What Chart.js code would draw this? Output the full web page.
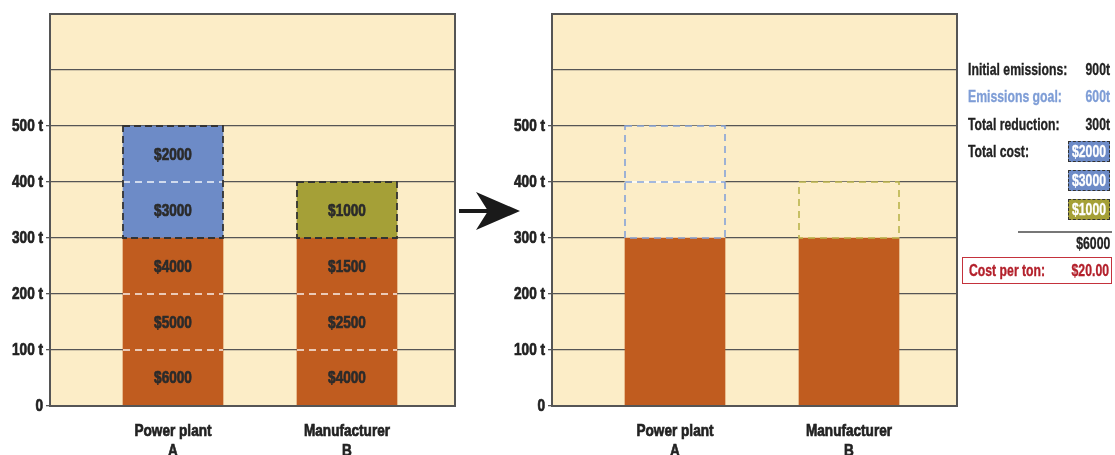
<!DOCTYPE html>
<html>
<head>
<meta charset="utf-8">
<script src="https://cdn.jsdelivr.net/npm/chart.js@4/dist/chart.umd.min.js"></script>
<style>
  html, body { margin: 0; padding: 0; background: #fff; }
  #page { position: relative; width: 1115px; height: 455px; overflow: hidden;
          font-family: 'Liberation Sans', Arial, sans-serif; }
  canvas { position: absolute; top: 0; }
  #before { left: 0; }
  #after { left: 500px; }
  #arrow { position: absolute; left: 0; top: 0; pointer-events: none; }
  .row { position: absolute; left: 968px; width: 142px; height: 20px; line-height: 20px;
         font-weight: bold; font-size: 17px; color: #222; white-space: nowrap; }
  .c { position: absolute; top: 0; display: inline-block; white-space: nowrap;
       -webkit-text-stroke: 0.35px currentColor; }
  .l { left: 0; transform: scaleX(0.72); transform-origin: left center; }
  .r { right: 0; transform: scaleX(0.72); transform-origin: right center; }
  .m { left: 50%; transform: translateX(-50%) scaleX(0.72); transform-origin: center center; }
  .goal { color: #7e9dd6; }
  .chip { position: absolute; left: 1068px; width: 40px; height: 19px; line-height: 19px;
          color: #fff; font-weight: bold; font-size: 17px;
          border: 1.5px dashed #333; white-space: nowrap; }
  .rule { position: absolute; left: 1018px; top: 231px; width: 94px; height: 2px; background: #777; }
  .total { position: absolute; left: 1018px; width: 92px; top: 234px; height: 20px; line-height: 20px;
           font-weight: bold; font-size: 17px; color: #222; }
  .perton { position: absolute; left: 962px; top: 257px; width: 148px; height: 25px; line-height: 25px;
            border: 1.5px solid #c4323c; font-weight: bold; font-size: 17px; color: #b3202b; white-space: nowrap; }
  .perton .l { left: 6px; }
  .perton .r { right: 2px; }
</style>
</head>
<body>
<div id="page">
  <canvas id="before" width="470" height="455"></canvas>
  <canvas id="after" width="470" height="455"></canvas>
  <svg id="arrow" width="1115" height="455">
    <rect x="459" y="209" width="31" height="4" fill="#1a1a1a"></rect>
    <polygon points="520,211 476,192 488,211 476,230" fill="#1a1a1a"></polygon>
  </svg>
  <div id="summary"></div>
</div>
<script>
// Two sources, each able to cut emissions in 100 t steps at a rising cost.
const categories = [['Power plant', 'A'], ['Manufacturer', 'B']];

// Tons cut per step (bottom to top); null = no step offered
const step1Tons = [100, 100];
const step2Tons = [100, 100];
const step3Tons = [100, 100];
const step4Tons = [100, 100];
const step5Tons = [100, null];

// Cost of each step
const step1Cost = [6000, 4000];
const step2Cost = [5000, 2500];
const step3Cost = [4000, 1500];
const step4Cost = [3000, 1000];
const step5Cost = [2000, null];

// Axis ticks
const yTickValues = [0, 100, 200, 300, 400, 500, 600, 700];
const yLabelMax = 500;

// Summary figures
const initialEmissions = 900;
const emissionsGoal = 600;
const totalReduction = 300;
const boughtCosts = [2000, 3000, 1000];

const CREAM = '#fcedc7';
const ORANGE = '#c05c1f';
const BLUE = '#6d8bc7';
const OLIVE = '#a5a037';
const BLUE_DASH = '#85a2d8';
const OLIVE_DASH = '#b9b44c';
const GRID = '#555';
const FONT = "'Liberation Sans', Arial, sans-serif";

Chart.defaults.font.family = FONT;
Chart.defaults.font.weight = 'bold';
Chart.defaults.font.size = 17;
Chart.defaults.color = '#222';

const toPoints = arr => arr.map((v, i) => ({ x: i + 1, y: v })).filter(p => p.y !== null);
const money = v => '$' + v;

// Narrow, heavy lettering: every string on this context is squeezed horizontally
function condense(ctx, k) {
  const draw = ctx.fillText.bind(ctx);
  ctx.fillText = function (text, x, y, maxWidth) {
    ctx.save();
    ctx.translate(x, y);
    ctx.scale(k, 1);
    const w = maxWidth === undefined ? undefined : maxWidth / k;
    if (w === undefined) draw(text, 0, 0); else draw(text, 0, 0, w);
    ctx.strokeStyle = ctx.fillStyle;
    ctx.lineWidth = 0.7;
    ctx.setLineDash([]);
    if (w === undefined) ctx.strokeText(text, 0, 0); else ctx.strokeText(text, 0, 0, w);
    ctx.restore();
  };
  return ctx;
}

// Cream plot area and a dark frame around it
const framePlugin = {
  id: 'frame',
  beforeDraw(chart) {
    const { ctx, chartArea: a } = chart;
    ctx.save();
    ctx.fillStyle = CREAM;
    ctx.fillRect(a.left, a.top, a.right - a.left, a.bottom - a.top);
    ctx.restore();
  },
  afterDraw(chart) {
    const { ctx, chartArea: a } = chart;
    ctx.save();
    ctx.strokeStyle = GRID;
    ctx.lineWidth = 2;
    ctx.strokeRect(a.left, a.top, a.right - a.left, a.bottom - a.top);
    ctx.restore();
  }
};

function hline(ctx, x0, x1, y, color, dash, width) {
  ctx.save();
  ctx.strokeStyle = color;
  ctx.lineWidth = width;
  ctx.setLineDash(dash || []);
  ctx.beginPath();
  ctx.moveTo(x0, y);
  ctx.lineTo(x1, y);
  ctx.stroke();
  ctx.restore();
}

// Dashed outlines and separators for each block of steps
const cutsPlugin = {
  id: 'cuts',
  afterDatasetsDraw(chart, args, opts) {
    const ctx = chart.ctx;
    const groups = {};
    chart.data.datasets.forEach((ds, di) => {
      const meta = chart.getDatasetMeta(di);
      meta.data.forEach((el, j) => {
        const key = ds.data[j].x + '|' + ds.cutGroup;
        (groups[key] = groups[key] || { group: ds.cutGroup, els: [] }).els.push(el);
      });
    });
    Object.values(groups).forEach(g => {
      const cfg = opts[g.group];
      if (!cfg) return;
      const els = g.els;
      const left = els[0].x - els[0].width / 2;
      const right = els[0].x + els[0].width / 2;
      const top = Math.min(...els.map(e => e.y));
      const bottom = Math.max(...els.map(e => e.base));
      const color = els[0].options.borderColor;
      els.forEach(e => {
        if (Math.abs(e.base - bottom) < 0.5) return;
        if (cfg.inner === 'white') {
          hline(ctx, left, right, e.base, 'rgba(255,255,255,0.9)', [7, 5], 1.6);
        } else if (cfg.inner === 'whiteColor') {
          hline(ctx, left, right, e.base, '#fff', [], 1.6);
          hline(ctx, left, right, e.base, color, [7, 5], 1.6);
        }
      });
      if (cfg.outline) {
        ctx.save();
        ctx.strokeStyle = color;
        ctx.lineWidth = cfg.width || 1.6;
        ctx.setLineDash(cfg.dash || [7, 4]);
        ctx.strokeRect(left, top, right - left, bottom - top);
        ctx.restore();
      }
    });
  }
};

// Cost printed in the middle of each step
const costPlugin = {
  id: 'costs',
  afterDatasetsDraw(chart) {
    const ctx = chart.ctx;
    ctx.save();
    ctx.font = 'bold 17px ' + FONT;
    ctx.fillStyle = '#2b2b2b';
    ctx.textAlign = 'center';
    ctx.textBaseline = 'middle';
    chart.data.datasets.forEach((ds, di) => {
      if (!ds.costs) return;
      chart.getDatasetMeta(di).data.forEach((el, j) => {
        const v = ds.costs[ds.data[j].x - 1];
        if (v == null) return;
        ctx.fillText(money(v), el.x, (el.y + el.base) / 2 + 1);
      });
    });
    ctx.restore();
  }
};

function scales(axisWidth) {
  return {
    x: {
      type: 'linear',
      stacked: true,
      offset: false,
      min: 1 - 123 / 174,
      max: 2 + 108 / 174,
      afterBuildTicks(s) { s.ticks = categories.map((c, i) => ({ value: i + 1 })); },
      afterFit(s) { s.height = 49; },
      ticks: {
        autoSkip: false, maxRotation: 0, padding: 7,
        callback: v => categories[v - 1] || '',
        font: { size: 17, weight: 'bold', lineHeight: 1.18 },
        color: '#222'
      },
      grid: { display: false },
      border: { display: true, color: GRID, width: 2 }
    },
    y: {
      type: 'linear',
      stacked: true,
      min: 0,
      max: yTickValues[yTickValues.length - 1],
      afterBuildTicks(s) { s.ticks = yTickValues.map(v => ({ value: v })); },
      afterFit(s) { s.width = axisWidth; },
      ticks: {
        padding: 3,
        callback: v => v === 0 ? '0' : (v <= yLabelMax ? v + ' t' : ''),
        font: { size: 17, weight: 'bold' },
        color: '#222'
      },
      grid: {
        color: GRID, lineWidth: 1.3, tickLength: 4,
        tickColor: c => (c.tick && c.tick.value <= yLabelMax) ? GRID : 'rgba(0,0,0,0)'
      },
      border: { display: true, color: GRID, width: 2 }
    }
  };
}

function baseOptions(axisWidth, rightPad, cutOpts) {
  return {
    responsive: false,
    animation: false,
    layout: { padding: { top: 14, right: rightPad, left: 0, bottom: 0 } },
    scales: scales(axisWidth),
    plugins: { legend: { display: false }, tooltip: { enabled: false }, cuts: cutOpts },
    datasets: { bar: { barThickness: 100, borderWidth: 0 } }
  };
}

// Left: every step each source could take
const bought = [BLUE, OLIVE];
new Chart(condense(document.getElementById('before').getContext('2d'), 0.8), {
  type: 'bar',
  data: {
    datasets: [
      { data: toPoints(step1Tons), costs: step1Cost, backgroundColor: ORANGE, borderColor: '#fff', cutGroup: 'kept' },
      { data: toPoints(step2Tons), costs: step2Cost, backgroundColor: ORANGE, borderColor: '#fff', cutGroup: 'kept' },
      { data: toPoints(step3Tons), costs: step3Cost, backgroundColor: ORANGE, borderColor: '#fff', cutGroup: 'kept' },
      { data: toPoints(step4Tons), costs: step4Cost, backgroundColor: bought, borderColor: '#333', cutGroup: 'bought' },
      { data: toPoints(step5Tons), costs: step5Cost, backgroundColor: bought, borderColor: '#333', cutGroup: 'bought' }
    ]
  },
  options: baseOptions(50, 15, {
    kept: { outline: false, inner: 'white' },
    bought: { outline: true, inner: 'white', dash: [7, 4], width: 1.8 }
  }),
  plugins: [framePlugin, cutsPlugin, costPlugin]
});

// Right: the cheapest steps are bought, the rest remains
const keptTons = step1Tons.map((v, i) => v + step2Tons[i] + step3Tons[i]);
new Chart(condense(document.getElementById('after').getContext('2d'), 0.8), {
  type: 'bar',
  data: {
    datasets: [
      { data: toPoints(keptTons), backgroundColor: ORANGE, borderColor: ORANGE, cutGroup: 'kept' },
      { data: toPoints(step4Tons), backgroundColor: CREAM, borderColor: [BLUE_DASH, OLIVE_DASH], cutGroup: 'bought' },
      { data: toPoints(step5Tons), backgroundColor: CREAM, borderColor: [BLUE_DASH, OLIVE_DASH], cutGroup: 'bought' }
    ]
  },
  options: baseOptions(52, 13, {
    bought: { outline: true, inner: 'whiteColor', dash: [7, 5], width: 1.6 }
  }),
  plugins: [framePlugin, cutsPlugin]
});

// Summary panel
const total = boughtCosts.reduce((a, b) => a + b, 0);
const perTon = (total / totalReduction).toFixed(2);
const chipColors = [BLUE, BLUE, OLIVE];
const chipTops = [141, 170, 199];
const L = t => `<span class="c l">${t}</span>`;
const R = t => `<span class="c r">${t}</span>`;
let html = '';
html += `<div class="row" style="top:60px">${L('Initial emissions:')}${R(initialEmissions + 't')}</div>`;
html += `<div class="row goal" style="top:87px">${L('Emissions goal:')}${R(emissionsGoal + 't')}</div>`;
html += `<div class="row" style="top:115px">${L('Total reduction:')}${R(totalReduction + 't')}</div>`;
html += `<div class="row" style="top:142px">${L('Total cost:')}</div>`;
boughtCosts.forEach((c, i) => {
  html += `<div class="chip" style="top:${chipTops[i]}px;background:${chipColors[i]}"><span class="c m">${money(c)}</span></div>`;
});
html += `<div class="rule"></div>`;
html += `<div class="total"><span class="c r">${money(total)}</span></div>`;
html += `<div class="perton">${L('Cost per ton:')}${R('$' + perTon)}</div>`;
document.getElementById('summary').innerHTML = html;
</script>
</body>
</html>
